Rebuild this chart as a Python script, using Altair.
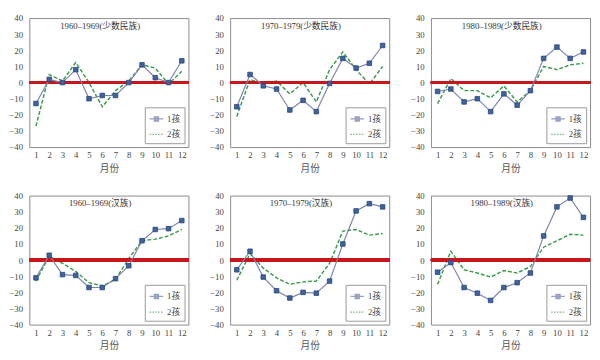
import altair as alt
import pandas as pd

months = list(range(1, 13))
series_names = ["1孩", "2孩"]
panel_titles = [
    "1960–1969(少数民族)", "1970–1979(少数民族)", "1980–1989(少数民族)",
    "1960–1969(汉族)", "1970–1979(汉族)", "1980–1989(汉族)",
]
one_child = [
    [-13, 2, 0, 8, -10, -8, -8, 0, 11, 3, 0, 13.5],
    [-15, 5, -2, -4, -17, -11, -18, -0.5, 15, 9, 12, 23],
    [-5.5, -4, -12, -10, -18, -7, -14, -5, 15, 22, 15, 19],
    [-11, 3, -9, -9.5, -17, -17, -11.5, -3.5, 12, 19, 19.5, 24.5],
    [-6, 5.5, -10.5, -19, -23.5, -20, -20.5, -13, 10, 30.5, 35, 33],
    [-7.5, -1.5, -17, -20.5, -25, -17, -14, -8, 15, 33, 38.5, 26.5],
]
two_child = [
    [-27, 5, 1, 12.5, 0, -15, -5, 1, 11, 9, -1, 7],
    [-21, 2, -1, 1, -7, 0, -12, 8, 19, 8, -1, 10],
    [-13, 2.5, -5, -5, -9.5, -2, -12, -5, 10, 8, 11, 12],
    [-13, 2.5, -2, -7, -14, -16, -12, 1, 12, 13, 15, 19],
    [-12.5, 4, -5, -11, -15, -13.5, -13, -2, 18, 19, 15.5, 16.5],
    [-15, 5.5, -6, -8, -10.5, -6.5, -8, -4, 8, 12, 16, 15.5],
]
y_ticks = list(range(-40, 41, 10))

SERIF = "Liberation Serif"
MIXED = "Liberation Serif, Noto Sans CJK SC"
W, H = 164, 133

y_scale = alt.Scale(domain=[-40, 40], nice=False)
y_axis = alt.Axis(values=y_ticks, title=None, grid=False, ticks=False, domain=False,
                  labelFont=SERIF, labelFontSize=9, labelColor="#444",
                  labelOverlap=False, labelFlush=False,
                  labelPadding=7, minExtent=17, maxExtent=17)


def panel(i):
    rows = []
    for m, a, b in zip(months, one_child[i], two_child[i]):
        rows.append({"month": m, "series": "1孩", "value": a})
        rows.append({"month": m, "series": "2孩", "value": b})
    df = pd.DataFrame(rows)

    x = alt.X("month:Q", scale=alt.Scale(domain=[0.5, 12.5], nice=False, zero=False),
              axis=alt.Axis(values=months, title="月份", grid=False, ticks=False, domain=False,
                            labelFont=SERIF, labelFontSize=9, labelColor="#444",
                            labelPadding=4, labelOverlap=False, minExtent=13, maxExtent=13,
                            titleFont="Noto Sans CJK SC", titleFontSize=10, titleFontWeight="normal",
                            titleColor="#555", titlePadding=4, labelFlush=False))
    y = alt.Y("value:Q", scale=y_scale, axis=y_axis)

    base = alt.Chart(df)
    line2 = base.transform_filter(alt.datum.series == "2孩").mark_line(
        color="#3c9b4c", strokeWidth=1.5, strokeDash=[4, 2]).encode(x=x, y=y)
    zero = alt.Chart(df).mark_rule(color="#c8161d", strokeWidth=3).encode(
        y=alt.YDatum(0, type="quantitative", scale=y_scale, axis=y_axis))
    line1 = base.transform_filter(alt.datum.series == "1孩").mark_line(
        color="#7d84ad", strokeWidth=1.2).encode(x=x, y=y)
    pts1 = base.transform_filter(alt.datum.series == "1孩").mark_point(
        shape="square", size=22, filled=True, fill="#3f62a0", stroke="#27457a",
        strokeWidth=0.8, opacity=1).encode(x=x, y=y)

    legend = alt.Legend(title=None, orient="bottom-right", offset=4, padding=4,
                        strokeColor="#999", fillColor="white", labelFont=MIXED,
                        labelFontSize=9, labelColor="#444", symbolSize=196,
                        symbolStrokeWidth=1.3, rowPadding=3, labelOffset=3)
    leg = base.transform_filter("false").mark_point(filled=True).encode(
        x=x, y=y,
        shape=alt.Shape("series:N", scale=alt.Scale(
            domain=series_names,
            range=["M-1,0H1M-0.3,-0.3H0.3V0.3H-0.3Z",
                   "M-1,0H-0.78M-0.58,0H-0.36M-0.16,0H0.06M0.26,0H0.48M0.68,0H0.9"]),
            legend=legend),
        fill=alt.Fill("series:N", scale=alt.Scale(domain=series_names,
                                                  range=["#3f62a0", "transparent"]), legend=legend),
        stroke=alt.Stroke("series:N", scale=alt.Scale(domain=series_names,
                                                      range=["#6f77a3", "#3c9b4c"]), legend=legend),
    )

    title = alt.Chart(alt.Data(values=[{"t": panel_titles[i]}])).mark_text(
        font=MIXED, fontSize=9, color="#333", align="center", baseline="middle"
    ).encode(text="t:N", x=alt.value(73), y=alt.value(8))

    return alt.layer(line2, zero, line1, pts1, leg, title).properties(width=W, height=H)


chart = alt.concat(*[panel(i) for i in range(6)], columns=3, spacing={"row": 17, "column": 19}).resolve_scale(
    shape="independent", fill="independent", stroke="independent"
).resolve_legend(
    shape="independent", fill="independent", stroke="independent"
).configure_view(stroke="#8a8a8a", strokeWidth=1).properties(
    padding=0, background="white"
)

chart.save("out.html", embed_options={"renderer": "svg", "actions": False})
